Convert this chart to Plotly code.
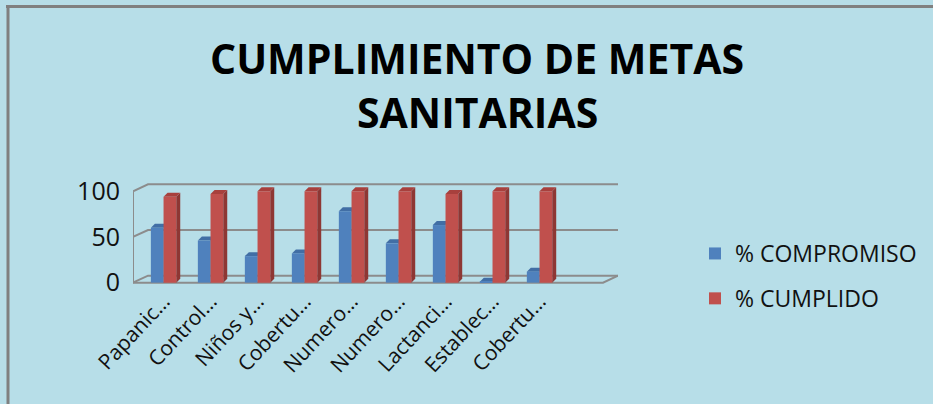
import plotly.graph_objects as go

# ---- data -------------------------------------------------------------
categories = ["Papanic…", "Control…", "Niños y…", "Cobertu…", "Numero…",
              "Numero…", "Lactanci…", "Establec…", "Cobertu…"]
compromiso = [60, 46, 29, 32, 78, 43, 63, 1, 12]
cumplido = [94, 97, 100, 100, 100, 100, 97, 100, 100]
y_ticks = [0, 50, 100]
title_lines = ["CUMPLIMIENTO DE METAS", "SANITARIAS"]

# ---- layout constants -------------------------------------------------
W, H = 933, 404
BG = "#B7DEE8"
GRID = "#8C8C8C"
PLOT_L, PLOT_R = 133, 618          # plot area, px
ZERO_PX = 283                      # pixel row of value 0
PX_PER_UNIT = 0.92
Y_MIN, Y_MAX = -1.5, 109
X_MIN, X_MAX = -0.65, 9.67
BAR_W = 0.27

px_per_cat = (PLOT_R - PLOT_L) / (X_MAX - X_MIN)
DEPTH_X = 15 / px_per_cat          # back wall offset
DEPTH_Y = 7 / PX_PER_UNIT
BAR_DX = 4 / px_per_cat            # bar depth
BAR_DY = 4 / PX_PER_UNIT

top_px = ZERO_PX - Y_MAX * PX_PER_UNIT
bot_px = ZERO_PX - Y_MIN * PX_PER_UNIT

xs = list(range(len(categories)))

fig = go.Figure()

series = [
    ("% COMPROMISO", compromiso, -BAR_W, "#4F81BD", "#385F8F", "#416EA5"),
    ("% CUMPLIDO", cumplido, 0.0, "#C0504D", "#8E3734", "#A8403D"),
]

shapes = []

# back wall grid lines with the slanted left return
for g in y_ticks:
    shapes.append(dict(
        type="path", xref="x", yref="y", layer="below",
        path=f"M {X_MIN},{g} L {X_MIN + DEPTH_X},{g + DEPTH_Y} L {X_MAX},{g + DEPTH_Y}",
        line=dict(color=GRID, width=2),
    ))
# left wall edge and front floor edge
shapes.append(dict(type="line", xref="x", yref="y", layer="below",
                   x0=X_MIN, x1=X_MIN, y0=0, y1=y_ticks[-1],
                   line=dict(color=GRID, width=2)))
shapes.append(dict(type="path", xref="x", yref="y", layer="below",
                   path=f"M {X_MIN},{0} L {X_MAX - DEPTH_X},{0} L {X_MAX},{DEPTH_Y}",
                   line=dict(color=GRID, width=2)))

for name, vals, off, front, side, top in series:
    fig.add_trace(go.Bar(
        x=xs, y=vals, name=name, width=BAR_W, offset=off,
        marker=dict(color=front, line=dict(width=0)),
        legendgroup=name,
    ))
    # 3-D side and top faces, built from each value
    for x, v in zip(xs, vals):
        x0 = x + off
        x1 = x0 + BAR_W
        shapes.append(dict(
            type="path", xref="x", yref="y", layer="below",
            path=(f"M {x1},0 L {x1 + BAR_DX},{BAR_DY} L {x1 + BAR_DX},{v + BAR_DY} "
                  f"L {x1},{v} Z"),
            fillcolor=side, line=dict(width=0),
        ))
        shapes.append(dict(
            type="path", xref="x", yref="y", layer="below",
            path=(f"M {x0},{v} L {x0 + BAR_DX},{v + BAR_DY} L {x1 + BAR_DX},{v + BAR_DY} "
                  f"L {x1},{v} Z"),
            fillcolor=top, line=dict(width=0),
        ))


def paper_x(px):
    return (px - PLOT_L) / (PLOT_R - PLOT_L)


def paper_y(py):
    return (bot_px - py) / (bot_px - top_px)


# outer chart frame (top and left edges)
shapes.append(dict(type="line", xref="paper", yref="paper",
                   x0=paper_x(6), x1=paper_x(W + 5), y0=paper_y(5), y1=paper_y(5),
                   line=dict(color="#808080", width=3)))
shapes.append(dict(type="line", xref="paper", yref="paper",
                   x0=paper_x(8), x1=paper_x(8), y0=paper_y(4), y1=paper_y(H + 5),
                   line=dict(color="#808080", width=3)))

# two-line title
annotations = []
for text, cy in zip(title_lines, [57, 111]):
    annotations.append(dict(
        text=text, showarrow=False, xref="paper", yref="paper",
        x=paper_x(477), y=paper_y(cy), xanchor="center", yanchor="middle",
        font=dict(family="Open Sans, sans-serif", size=41, color="#000000",
                  weight="bold"),
    ))

fig.update_layout(
    width=W, height=H,
    paper_bgcolor=BG, plot_bgcolor=BG,
    barmode="overlay",
    margin=dict(l=PLOT_L, r=W - PLOT_R, t=top_px, b=H - bot_px, pad=0),
    font=dict(family="Open Sans, sans-serif", color="#111111"),
    xaxis=dict(
        range=[X_MIN, X_MAX], tickmode="array", tickvals=xs, ticktext=categories,
        tickangle=-47, showgrid=False, zeroline=False, showline=False,
        tickfont=dict(size=21), ticks="", fixedrange=True,
    ),
    yaxis=dict(
        range=[Y_MIN, Y_MAX], tickmode="array", tickvals=y_ticks,
        showgrid=False, zeroline=False, showline=False,
        tickfont=dict(size=25), ticklabelstandoff=12, fixedrange=True,
    ),
    legend=dict(
        xref="container", yref="container",
        x=695 / W, y=1 - 276 / H, xanchor="left", yanchor="middle",
        font=dict(size=23), bgcolor="rgba(0,0,0,0)",
        traceorder="grouped", tracegroupgap=12, itemwidth=30,
    ),
    annotations=annotations,
    shapes=shapes,
    showlegend=True,
)

fig.write_html("out.html")
